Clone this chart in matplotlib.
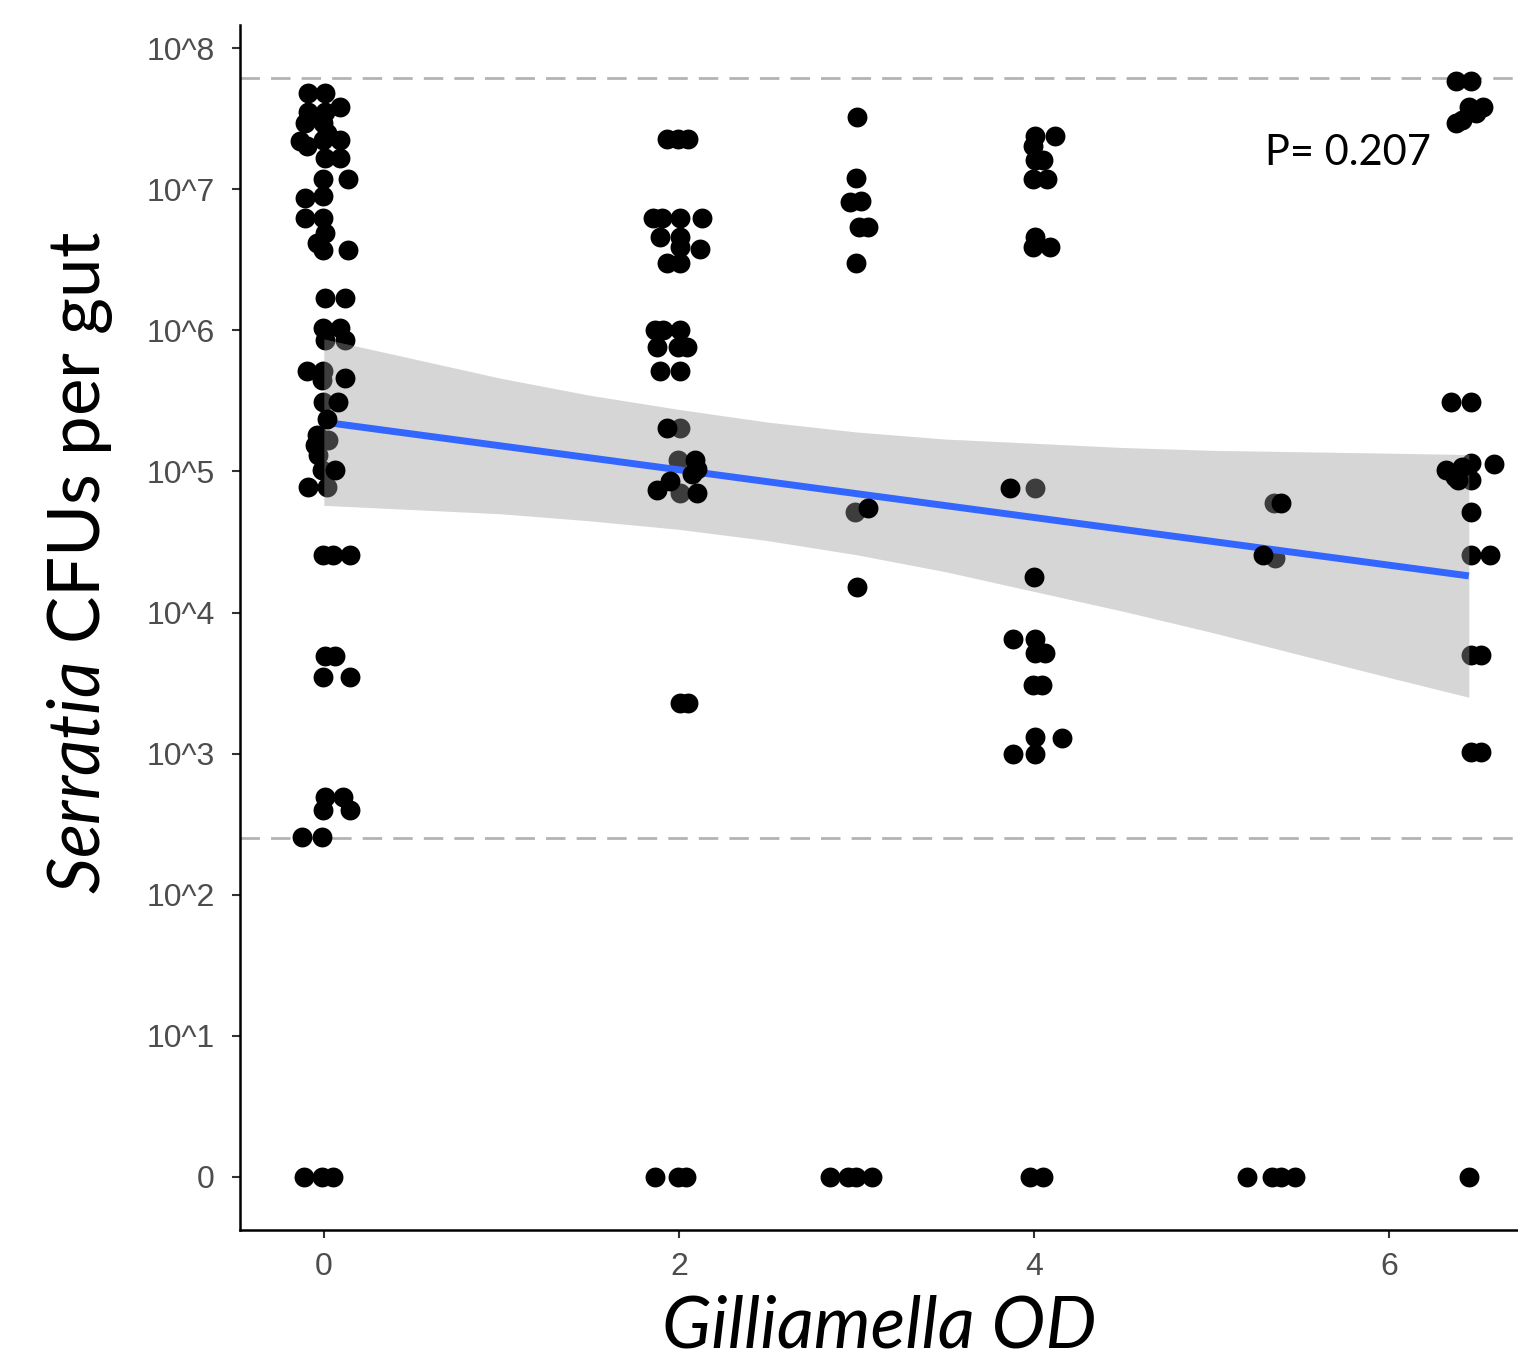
import numpy as np
import matplotlib
matplotlib.use("Agg")
import matplotlib.pyplot as plt

plt.rcParams['font.family'] = ['Liberation Sans', 'DejaVu Sans']
plt.rcParams['mathtext.fontset'] = 'custom'
plt.rcParams['mathtext.rm'] = 'Lato'
plt.rcParams['mathtext.it'] = 'Lato:italic'

# points (x = Gilliamella OD with jitter, y = log10 CFUs; 0 drawn at the "0" row)
# these sit under the confidence ribbon
x_pts = [-0.090, 0.006, 0.090, -0.090, 0.006, -0.107, -0.006, 0.017, -0.135, -0.096,
         -0.006, 0.090, 0.006, 0.090, -0.006, 0.135, -0.107, -0.006, -0.107, -0.006,
         0.006, -0.039, -0.006, 0.135, 0.006, 0.118, -0.006, 0.090, 0.006, 0.118,
         -0.096, -0.006, -0.011, -0.006, -0.039, -0.051, -0.034, 0.023, -0.011, -0.090,
         0.017, -0.006, 0.051, 0.146, 0.006, 0.062, -0.006, 0.146, 0.006, 0.107,
         -0.006, 0.146, -0.124, -0.011, -0.113, -0.011, 0.051,
         1.932, 1.994, 2.051, 1.854, 1.904, 2.006, 2.130, 1.893, 2.006, 2.006,
         2.118, 1.932, 2.006, 1.865, 1.910, 2.006, 1.876, 1.994, 2.045, 1.893,
         2.006, 2.006, 1.994, 2.006, 2.006, 2.051, 1.865, 1.994, 2.039,
         3.003, 2.997, 2.963, 3.025, 3.014, 3.065, 2.997, 2.992, 3.003,
         2.851, 2.952, 2.997, 3.087,
         4.006, 4.118, 3.994, 4.006, 4.051, 3.994, 4.073, 4.006, 4.090, 3.994,
         4.006, 3.882, 4.006, 4.006, 4.062, 3.994, 4.045, 4.006, 4.158, 3.882,
         4.006, 3.977, 4.051,
         5.35, 5.36, 5.20, 5.34, 5.39, 5.47,
         6.38, 6.46, 6.45, 6.53, 6.49, 6.41, 6.38, 6.35, 6.46, 6.46,
         6.46, 6.59, 6.46, 6.57, 6.46, 6.52, 6.46, 6.52, 6.45]
y_pts = [7.68, 7.68, 7.58, 7.55, 7.55, 7.47, 7.47, 7.40, 7.34, 7.31,
         7.35, 7.35, 7.22, 7.22, 7.07, 7.07, 6.94, 6.95, 6.80, 6.80,
         6.69, 6.62, 6.57, 6.57, 6.23, 6.23, 6.02, 6.02, 5.93, 5.93,
         5.71, 5.71, 5.65, 5.49, 5.26, 5.19, 5.12, 5.22, 5.01, 4.89,
         4.89, 4.41, 4.41, 4.41, 3.69, 3.69, 3.54, 3.54, 2.69, 2.69,
         2.60, 2.60, 2.41, 2.41, 0, 0, 0,
         7.36, 7.36, 7.36, 6.80, 6.80, 6.80, 6.80, 6.66, 6.66, 6.59,
         6.58, 6.48, 6.48, 6.00, 6.00, 6.00, 5.88, 5.88, 5.88, 5.71,
         5.71, 5.31, 5.08, 4.85, 3.36, 3.36, 0, 0, 0,
         7.51, 7.08, 6.91, 6.92, 6.73, 6.73, 6.48, 4.71, 4.18,
         0, 0, 0, 0,
         7.38, 7.38, 7.31, 7.21, 7.21, 7.07, 7.07, 6.66, 6.59, 6.59,
         4.88, 3.81, 3.81, 3.71, 3.71, 3.49, 3.49, 3.12, 3.11, 3.00,
         3.00, 0, 0,
         4.78, 4.39, 0, 0, 0, 0,
         7.77, 7.77, 7.58, 7.58, 7.54, 7.49, 7.47, 5.49, 5.49, 5.06,
         4.94, 5.05, 4.41, 4.41, 3.70, 3.70, 3.01, 3.01, 0]

# points drawn again on top of the ribbon
x_top = [0.118, 0.079, 0.017, 0.062,
         1.932, 2.090, 2.101, 2.073, 1.949, 1.876, 2.101,
         3.065, 3.865, 4.000, 5.39, 5.29,
         6.32, 6.37, 6.39, 6.41, 6.46]
y_top = [5.66, 5.49, 5.37, 5.01,
         5.31, 5.08, 5.02, 4.98, 4.93, 4.87, 4.85,
         4.74, 4.88, 4.25, 4.78, 4.41,
         5.01, 4.96, 4.94, 5.03, 4.71]

# linear fit and its 95% band
fit_x = [0, 6.45]
fit_y = [5.35, 4.26]
band_x = [0, 0.5, 1, 1.5, 2, 2.5, 3, 3.5, 4, 4.5, 5, 5.5, 6, 6.45]
band_hi = [5.94, 5.80, 5.66, 5.54, 5.44, 5.35, 5.28, 5.23, 5.20, 5.17, 5.15, 5.14, 5.13, 5.12]
band_lo = [4.76, 4.73, 4.70, 4.65, 4.59, 4.51, 4.41, 4.29, 4.15, 4.01, 3.86, 3.70, 3.54, 3.40]

limits = [7.79, 2.40]
y_ticks = [0, 1, 2, 3, 4, 5, 6, 7, 8]
y_labels = ['0', '10^1', '10^2', '10^3', '10^4', '10^5', '10^6', '10^7', '10^8']
x_ticks = [0, 2, 4, 6]
p_text = 'P= 0.207'

fig = plt.figure(figsize=(15.18, 13.63), dpi=100)
ax = fig.add_axes([0.158, 0.0976, 0.842, 0.8841])

for h in limits:
    ax.axhline(h, color='#b3b3b3', lw=2.0, dashes=(7, 4), zorder=1)

ax.scatter(x_pts, y_pts, s=205, c='black', linewidths=0, zorder=2)
ax.fill_between(band_x, band_lo, band_hi, color='#999999', alpha=0.4, linewidth=0, zorder=3)
ax.plot(fit_x, fit_y, color='#3366FF', lw=5, solid_capstyle='butt', zorder=4)
ax.scatter(x_top, y_top, s=205, c='black', linewidths=0, zorder=5)

ax.text(5.30, 7.26, p_text, fontsize=30, family=['Lato', 'DejaVu Sans'], ha='left', va='center')

ax.set_xlim(-0.473, 6.727)
ax.set_ylim(-0.376, 8.165)
ax.set_xticks(x_ticks)
ax.set_yticks(y_ticks)
ax.set_yticklabels(y_labels)
ax.tick_params(labelsize=23, colors='#333333', labelcolor='#4d4d4d', length=6, width=1.5)
ax.tick_params(axis='y', pad=12)
ax.tick_params(axis='x', pad=10)

for s in ['top', 'right']:
    ax.spines[s].set_visible(False)
for s in ['left', 'bottom']:
    ax.spines[s].set_linewidth(1.8)

ax.set_ylabel(r'$\it{Serratia}$ CFUs per gut', fontsize=51, family=['Lato', 'DejaVu Sans'])
ax.yaxis.set_label_coords(-0.098, 0.554)
ax.set_xlabel('Gilliamella OD', fontsize=52, style='italic', family=['Lato', 'DejaVu Sans'], labelpad=9)

fig.savefig('out.png', dpi=100)
